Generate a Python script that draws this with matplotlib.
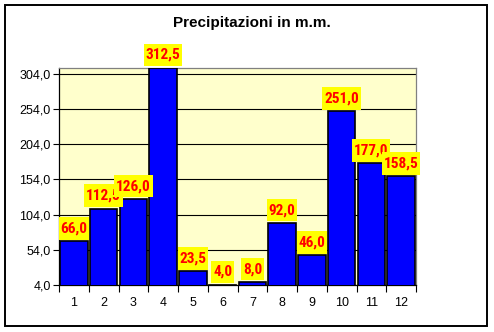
import matplotlib.pyplot as plt
from matplotlib.patches import Rectangle
from matplotlib.path import Path

plt.rcParams['font.family'] = ['Liberation Sans', 'DejaVu Sans']

mesi = [1, 2, 3, 4, 5, 6, 7, 8, 9, 10, 11, 12]
pioggia = [66.0, 112.5, 126.0, 312.5, 23.5, 4.0, 8.0, 92.0, 46.0, 251.0, 177.0, 158.5]
y_ticks = [4.0, 54.0, 104.0, 154.0, 204.0, 254.0, 304.0]


def virgola(v, dec=1):
    return f'{v:.{dec}f}'.replace('.', ',')


def box_etichetta(x0, y0, width, height, mutation_size):
    # excel-like label box: small side padding, taller top/bottom
    px = 0.12 * mutation_size
    py = 0.28 * mutation_size
    x0, x1 = x0 - px, x0 + width + px
    y0, y1 = y0 - py, y0 + height + py
    return Path([(x0, y0), (x1, y0), (x1, y1), (x0, y1), (x0, y0)], closed=True)


fig = plt.figure(figsize=(4.94, 3.32), dpi=100)
ax = fig.add_axes([59 / 494, 47 / 332, 357 / 494, 217 / 332])
ax.set_facecolor('#FFFFCC')

ax.bar(mesi, pioggia, width=0.92, color='#0000FF', edgecolor='black',
       linewidth=1.2, zorder=3)

for m, v in zip(mesi, pioggia):
    ax.annotate(virgola(v), xy=(m, v), xytext=(0, 13), textcoords='offset pixels',
                ha='center', va='center', color='#FF0000', fontsize=11,
                fontweight='bold', family=['Roboto Condensed', 'Liberation Sans'],
                annotation_clip=False, zorder=5,
                bbox=dict(boxstyle=box_etichetta, facecolor='#FFFF00', edgecolor='none'))

ax.set_xlim(0.5, 12.5)
ax.set_ylim(4.0, 312.5)

ax.set_yticks(y_ticks)
ax.set_yticklabels([virgola(t) for t in y_ticks], fontsize=9)
ax.yaxis.grid(True, color='black', linewidth=0.8, zorder=1)
ax.set_axisbelow(True)

# tick marks between categories, labels at the centres
ax.set_xticks([m - 0.5 for m in mesi] + [mesi[-1] + 0.5])
ax.set_xticklabels([])
ax.set_xticks(mesi, minor=True)
ax.set_xticklabels([str(m) for m in mesi], minor=True, fontsize=9)
ax.tick_params(axis='x', which='major', length=5, width=0.8, direction='out')
ax.tick_params(axis='x', which='minor', length=0, pad=9)
ax.tick_params(axis='y', length=4, width=0.8, direction='out', pad=2)

for s in ['left', 'bottom']:
    ax.spines[s].set_color('black')
    ax.spines[s].set_linewidth(0.9)
for s in ['top', 'right']:
    ax.spines[s].set_color('#808080')
    ax.spines[s].set_linewidth(0.9)

fig.text(252 / 494, 1 - 23 / 332, 'Precipitazioni in m.m.', ha='center', va='center',
         fontsize=11, fontweight='bold')

fig.patches.append(Rectangle((5 / 494, 6 / 332), 482 / 494, 321 / 332,
                             transform=fig.transFigure, fill=False,
                             edgecolor='black', linewidth=1.4))

fig.savefig('out.png', dpi=100)
